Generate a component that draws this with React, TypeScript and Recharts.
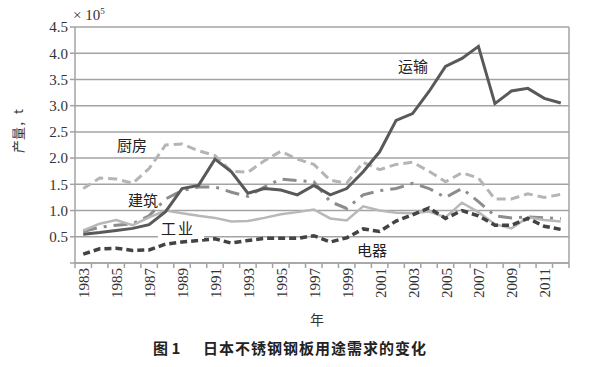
import * as React from 'react';
import { LineChart, Line, XAxis, YAxis, CartesianGrid } from 'recharts';

// 年份 (1983-2012)
const years = [
    1983, 1984, 1985, 1986, 1987, 1988, 1989, 1990, 1991, 1992,
    1993, 1994, 1995, 1996, 1997, 1998, 1999, 2000, 2001, 2002,
    2003, 2004, 2005, 2006, 2007, 2008, 2009, 2010, 2011, 2012
];

// 单位: ×10^5 t
const transport = [
    0.55, 0.58, 0.62, 0.66, 0.73, 0.98, 1.42, 1.48, 1.98, 1.74,
    1.33, 1.42, 1.39, 1.3, 1.48, 1.3, 1.42, 1.74, 2.12, 2.72,
    2.85, 3.27, 3.75, 3.9, 4.13, 3.04, 3.28, 3.33, 3.14, 3.05
];
const kitchen = [
    1.42, 1.62, 1.6, 1.52, 1.8, 2.25, 2.27, 2.14, 2.05, 1.75,
    1.73, 1.95, 2.13, 1.98, 1.88, 1.58, 1.52, 1.92, 1.78, 1.88,
    1.92, 1.75, 1.55, 1.72, 1.62, 1.22, 1.22, 1.32, 1.25, 1.31
];
const building = [
    0.6, 0.68, 0.72, 0.75, 0.9, 1.22, 1.38, 1.45, 1.45, 1.35,
    1.27, 1.45, 1.6, 1.57, 1.55, 1.17, 1.04, 1.3, 1.38, 1.42,
    1.52, 1.42, 1.25, 1.42, 1.17, 0.9, 0.86, 0.88, 0.86, 0.85
];
const industry = [
    0.62, 0.75, 0.82, 0.72, 0.87, 1.0, 0.95, 0.9, 0.86, 0.79,
    0.8, 0.86, 0.93, 0.97, 1.02, 0.85, 0.81, 1.08, 1.0, 0.96,
    0.95, 0.98, 0.87, 1.15, 0.97, 0.74, 0.66, 0.87, 0.82, 0.79
];
const appliance = [
    0.17, 0.27, 0.28, 0.24, 0.25, 0.36, 0.4, 0.43, 0.46, 0.38,
    0.43, 0.47, 0.47, 0.47, 0.52, 0.4, 0.48, 0.65, 0.6, 0.8,
    0.92, 1.05, 0.85, 1.0, 0.9, 0.72, 0.72, 0.85, 0.7, 0.64
];

const yTicks = [0, 0.5, 1.0, 1.5, 2.0, 2.5, 3.0, 3.5, 4.0, 4.5];

const data = years.map((yr, i) => ({
    year: String(yr),
    transport: transport[i],
    kitchen: kitchen[i],
    building: building[i],
    industry: industry[i],
    appliance: appliance[i]
}));

const serif = '"Liberation Serif", "DejaVu Serif", serif';
const cjk = '"Noto Sans CJK SC", sans-serif';
const gridColor = '#a3a3a3';
const bandW = 494 / years.length;

const YearTick = (props: any) => {
    const { x, y, payload, index } = props;
    const left = x - bandW / 2;
    return (
        <g>
            <line x1={left} y1={y} x2={left} y2={y + 5} stroke={gridColor} strokeWidth={1.5} />
            {index === years.length - 1 && (
                <line x1={x + bandW / 2} y1={y} x2={x + bandW / 2} y2={y + 5} stroke={gridColor} strokeWidth={1.5} />
            )}
            {index % 2 === 0 && (
                <text
                    x={x}
                    y={y + 5}
                    transform={`rotate(-90 ${x} ${y + 5})`}
                    textAnchor="end"
                    dy="0.4em"
                    fontFamily={serif}
                    fontSize={15}
                    fill="#333"
                >
                    {payload.value}
                </text>
            )}
        </g>
    );
};

const label = (text: string, left: number, top: number, extra?: React.CSSProperties) => (
    <div
        style={{
            position: 'absolute',
            left,
            top,
            fontFamily: cjk,
            fontSize: 15,
            color: '#222',
            lineHeight: '18px',
            whiteSpace: 'nowrap',
            ...extra
        }}
    >
        {text}
    </div>
);

const App = () => {
    return (
        <div style={{ position: 'absolute', left: 0, top: 0, width: 592, height: 367, background: '#fff' }}>
            <LineChart
                width={592}
                height={367}
                data={data}
                margin={{ top: 27, right: 23, left: 0, bottom: 0 }}
            >
                <CartesianGrid
                    stroke={gridColor}
                    strokeWidth={1.5}
                    vertical={true}
                    verticalPoints={[569]}
                />
                <XAxis
                    dataKey="year"
                    scale="band"
                    interval={0}
                    height={104}
                    tickLine={false}
                    tickSize={0}
                    tickMargin={0}
                    axisLine={{ stroke: gridColor, strokeWidth: 1.5 }}
                    tick={<YearTick />}
                />
                <YAxis
                    type="number"
                    domain={[0, 4.5]}
                    ticks={yTicks}
                    width={75}
                    tickSize={5}
                    tickLine={{ stroke: gridColor, strokeWidth: 1.5 }}
                    axisLine={{ stroke: gridColor, strokeWidth: 1.5 }}
                    tickFormatter={(v: number) => (v === 0 ? '' : v.toFixed(1))}
                    tick={{ fontFamily: serif, fontSize: 15, fill: '#333' }}
                />
                <Line type="linear" dataKey="kitchen" stroke="#b5b5b5" strokeWidth={3} strokeDasharray="9 5" dot={false} isAnimationActive={false} />
                <Line type="linear" dataKey="building" stroke="#8c8c8c" strokeWidth={3} strokeDasharray="14 7 3 7" dot={false} isAnimationActive={false} />
                <Line type="linear" dataKey="industry" stroke="#b8b8b8" strokeWidth={2.5} dot={false} isAnimationActive={false} />
                <Line type="linear" dataKey="appliance" stroke="#434343" strokeWidth={3.5} strokeDasharray="7 4" dot={false} isAnimationActive={false} />
                <Line type="linear" dataKey="transport" stroke="#595959" strokeWidth={3} dot={false} isAnimationActive={false} />
            </LineChart>

            <div style={{ position: 'absolute', left: 73, top: 6, fontFamily: serif, fontSize: 15, color: '#333' }}>
                × 10<sup style={{ fontSize: 9 }}>5</sup>
            </div>
            <div
                style={{
                    position: 'absolute',
                    left: 17,
                    top: 131,
                    transform: 'translate(-50%, -50%) rotate(-90deg)',
                    fontFamily: cjk,
                    fontSize: 13,
                    color: '#333',
                    whiteSpace: 'nowrap'
                }}
            >
                产量，t
            </div>

            {/* 0.5 网格线在"工业"标签右侧断开 */}
            <div style={{ position: 'absolute', left: 158, top: 234, width: 46, height: 5, background: '#fff' }} />

            {label('运输', 398, 57)}
            {label('厨房', 117, 136)}
            {label('建筑', 128, 191)}
            {label('工业', 161, 219, { letterSpacing: 2 })}
            {label('电器', 357, 241)}

            <div style={{ position: 'absolute', left: 310, top: 309, fontFamily: cjk, fontSize: 14, color: '#333' }}>年</div>
            <div
                style={{
                    position: 'absolute',
                    left: 153,
                    top: 337,
                    fontFamily: cjk,
                    fontSize: 15,
                    fontWeight: 'bold',
                    color: '#222',
                    whiteSpace: 'nowrap'
                }}
            >
                图 1
            </div>
            <div
                style={{
                    position: 'absolute',
                    left: 203,
                    top: 337,
                    fontFamily: cjk,
                    fontSize: 15,
                    fontWeight: 'bold',
                    letterSpacing: 1,
                    color: '#222',
                    whiteSpace: 'nowrap'
                }}
            >
                日本不锈钢钢板用途需求的变化
            </div>
        </div>
    );
};

export default App;
